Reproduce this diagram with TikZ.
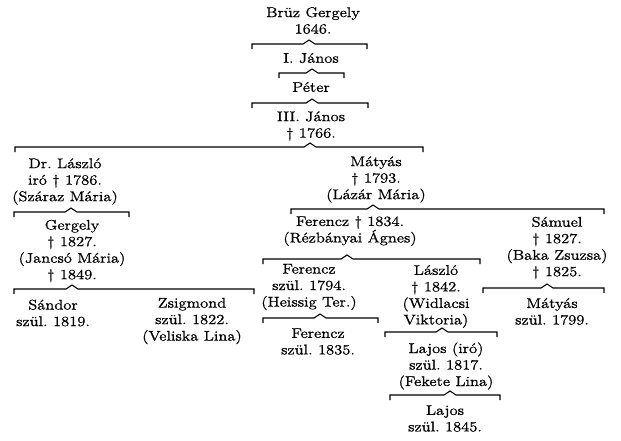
\documentclass[tikz,border=0pt]{standalone}
\usepackage{fontspec}
\setmainfont{Latin Modern Roman}[FakeStretch=1.18,FakeBold=1]
\newcommand\famline[4]{% y, x1, x2, caret x
  \draw[brk] (#2,#1+5) -- (#2,#1) -- (#4-6,#1) -- (#4,#1-4) -- (#4+6,#1) -- (#3,#1) -- (#3,#1+5);}
\begin{document}
\frenchspacing
\begin{tikzpicture}[x=1pt,y=-1pt,
  person/.style={align=center, inner sep=0pt, font=\fontsize{14}{16.5}\selectfont},
  brk/.style={line width=1.1pt, line join=miter}]
\useasboundingbox (0,0) rectangle (621,440);
\fill[white] (0,0) rectangle (621,440);
% persons
\node[person] (bruz)     at (313,20.5)  {Brüz Gergely\\1646.};
\node[person] (janos1)   at (311,58)    {I. János};
\node[person] (peter)    at (311,87)    {Péter};
\node[person] (janos3)   at (311,126)   {III. János\\† 1766.};
\node[person] (laszlo)   at (65,181.5)  {Dr. László\\iró † 1786.\\(Száraz Mária)};
\node[person] (gergely)  at (72,251)    {Gergely\\† 1827.\\(Jancsó Mária)\\† 1849.};
\node[person] (sandor)   at (53,313)    {Sándor\\szül. 1819.};
\node[person] (zsigmond) at (192,321)   {Zsigmond\\szül. 1822.\\(Veliska Lina)};
\node[person] (matyas)   at (376,179.5) {Mátyás\\† 1793.\\(Lázár Mária)};
\node[person] (ferencz1) at (350,231)   {Ferencz † 1834.\\(Rézbányai Ágnes)};
\node[person] (samuel)   at (557,248)   {Sámuel\\† 1827.\\(Baka Zsuzsa)\\† 1825.};
\node[person] (ferencz2) at (309,287)   {Ferencz\\szül. 1794.\\(Heissig Ter.)};
\node[person] (laszlo2)  at (436,296.5) {László\\† 1842.\\(Widlacsi\\Viktoria)};
\node[person] (matyas2)  at (552,311.5) {Mátyás\\szül. 1799.};
\node[person] (ferencz3) at (318,341.5) {Ferencz\\szül. 1835.};
\node[person] (lajos1)   at (446,366)   {Lajos (iró)\\szül. 1817.\\(Fekete Lina)};
\node[person] (lajos2)   at (445,418.5) {Lajos\\szül. 1845.};
% family brackets
\famline{44}{252}{367}{309}
\famline{73}{279}{344}{312}
\famline{103}{252}{368}{312}
\famline{147}{15}{423}{310}
\famline{212}{14}{129}{71}
\famline{289}{14}{254}{72}
\famline{209}{291}{604}{373}
\famline{259}{263}{480}{347}
\famline{288}{483}{604}{547}
\famline{318}{263}{378}{320}
\famline{332}{385}{497}{442}
\famline{395}{390}{500}{450}
\end{tikzpicture}
\end{document}
